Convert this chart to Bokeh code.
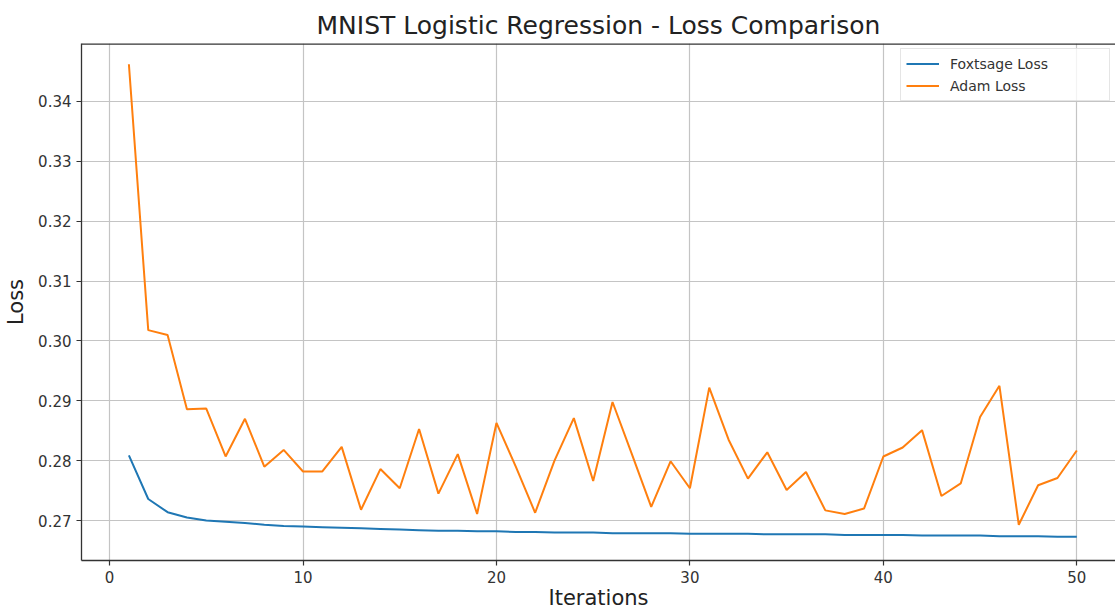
from bokeh.plotting import figure
from bokeh.models import FixedTicker, Span, Range1d, NumeralTickFormatter
from bokeh.embed import file_html
from bokeh.resources import INLINE

iterations = list(range(1, 51))
foxtsage_loss = [
    0.2809, 0.2736, 0.2714, 0.2705, 0.2700, 0.2698, 0.2696, 0.2693, 0.2691, 0.2690,
    0.2689, 0.2688, 0.2687, 0.2686, 0.2685, 0.2684, 0.2683, 0.2683, 0.2682, 0.2682,
    0.2681, 0.2681, 0.2680, 0.2680, 0.2680, 0.2679, 0.2679, 0.2679, 0.2679, 0.2678,
    0.2678, 0.2678, 0.2678, 0.2677, 0.2677, 0.2677, 0.2677, 0.2676, 0.2676, 0.2676,
    0.2676, 0.2675, 0.2675, 0.2675, 0.2675, 0.2674, 0.2674, 0.2674, 0.2673, 0.2673,
]
adam_loss = [
    0.3462, 0.3018, 0.3010, 0.2886, 0.2887, 0.2807, 0.2870, 0.2790, 0.2818, 0.2782,
    0.2782, 0.2823, 0.2718, 0.2786, 0.2754, 0.2853, 0.2745, 0.2811, 0.2711, 0.2863,
    0.2790, 0.2713, 0.2800, 0.2871, 0.2766, 0.2898, 0.2811, 0.2723, 0.2799, 0.2754,
    0.2922, 0.2835, 0.2770, 0.2814, 0.2751, 0.2781, 0.2717, 0.2711, 0.2720, 0.2807,
    0.2822, 0.2851, 0.2741, 0.2762, 0.2873, 0.2925, 0.2693, 0.2759, 0.2771, 0.2817,
]
x_ticks = [0, 10, 20, 30, 40, 50]
y_ticks = [0.27, 0.28, 0.29, 0.30, 0.31, 0.32, 0.33, 0.34]
title_text = "MNIST Logistic Regression - Loss Comparison"
x_label = "Iterations"
y_label = "Loss"

FONT = "DejaVu Sans"
SPINE = "#333333"
Y0, Y1 = 0.26333, 0.34967

p = figure(
    width=1115, height=612,
    output_backend="svg", toolbar_location=None,
    x_range=Range1d(-1.45, 52.0), y_range=Range1d(Y0, Y1),
    min_border_left=81, min_border_right=0, min_border_top=43, min_border_bottom=51,
    title=title_text,
)
p.title.text_font = FONT
p.title.text_font_size = "25px"
p.title.text_font_style = "normal"
p.title.text_color = "#222222"
p.title.align = "center"
p.title.standoff = 7

p.outline_line_color = None
p.background_fill_color = "white"
p.border_fill_color = "white"

p.line(iterations, foxtsage_loss, line_color="#1f77b4", line_width=2, legend_label="Foxtsage Loss")
p.line(iterations, adam_loss, line_color="#ff7f0e", line_width=2, legend_label="Adam Loss")

p.xaxis.ticker = FixedTicker(ticks=x_ticks)
p.yaxis.ticker = FixedTicker(ticks=y_ticks)
p.yaxis.formatter = NumeralTickFormatter(format="0.00")
p.xaxis.minor_tick_line_color = None
p.yaxis.minor_tick_line_color = None
p.xgrid.ticker = FixedTicker(ticks=x_ticks)
p.ygrid.ticker = FixedTicker(ticks=y_ticks)
p.grid.grid_line_color = "#c4c4c4"
p.grid.grid_line_width = 1.2

for ax in (p.xaxis[0], p.yaxis[0]):
    ax.axis_line_color = SPINE
    ax.axis_line_width = 1.3
    ax.major_tick_line_color = SPINE
    ax.major_tick_line_width = 1.2
    ax.major_tick_in = 0
    ax.major_tick_out = 5
    ax.major_label_text_font = FONT
    ax.major_label_text_font_size = "15px"
    ax.major_label_text_color = "#333333"
    ax.major_label_standoff = 5
    ax.axis_label_text_font = FONT
    ax.axis_label_text_font_size = "21px"
    ax.axis_label_text_font_style = "normal"
    ax.axis_label_text_color = "#222222"

p.xaxis.axis_label = x_label
p.yaxis.axis_label = y_label
p.xaxis.axis_label_standoff = 0
p.yaxis.axis_label_standoff = 7

p.add_layout(Span(location=Y1, dimension="width", line_color=SPINE, line_width=2.5))

lg = p.legend[0]
lg.location = "top_right"
lg.margin = 5
lg.padding = 5
lg.spacing = 3
lg.glyph_width = 33
lg.label_standoff = 11
lg.label_width = 154
lg.label_height = 19
lg.glyph_height = 19
lg.label_text_font = FONT
lg.label_text_font_size = "14px"
lg.label_text_color = "#333333"
lg.border_line_color = "#cccccc"
lg.background_fill_alpha = 0.8

open("out.html", "w").write(file_html(p, INLINE))
